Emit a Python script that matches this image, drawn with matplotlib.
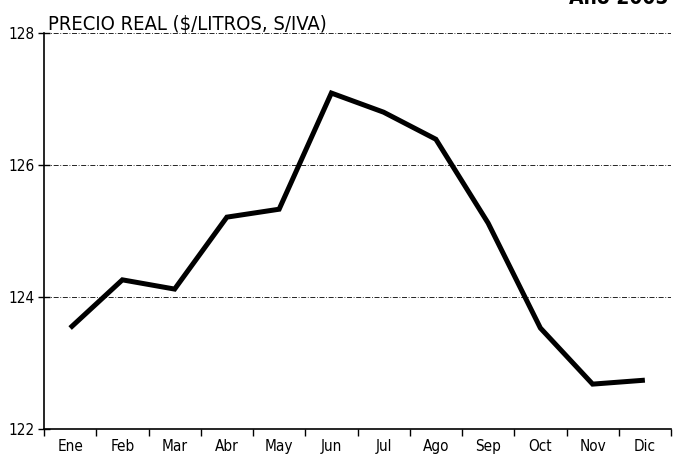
import matplotlib
matplotlib.use("Agg")
import matplotlib.pyplot as plt
from matplotlib.ticker import FixedLocator, NullFormatter

plt.rcParams['font.family'] = ['DejaVu Sans']
plt.rcParams['font.stretch'] = 'condensed'

months = ["Ene", "Feb", "Mar", "Abr", "May", "Jun", "Jul", "Ago", "Sep", "Oct", "Nov", "Dic"]
precio = [123.53, 124.26, 124.12, 125.21, 125.33, 127.09, 126.80, 126.39, 125.12, 123.53, 122.68, 122.74]
yticks = [122, 124, 126, 128]
title = "PRECIO REAL ($/LITROS, S/IVA)"
year_title = "Año 2005"

fig = plt.figure(figsize=(6.81, 4.58), dpi=100)
ax = fig.add_axes([44/681, 29/458, 627/681, 396/458])

x = list(range(len(months)))
ax.plot(x, precio, color="black", lw=3.6, solid_joinstyle="miter", solid_capstyle="butt", zorder=3)

ax.set_xlim(-0.5, len(months) - 0.5)
ax.set_ylim(122, 128)

ax.set_yticks(yticks)
ax.set_yticklabels([str(v) for v in yticks], fontsize=11)
ax.tick_params(axis="y", direction="inout", length=8, width=1, pad=3)

ax.xaxis.set_major_locator(FixedLocator([i - 0.5 for i in range(len(months) + 1)]))
ax.xaxis.set_major_formatter(NullFormatter())
ax.xaxis.set_minor_locator(FixedLocator(x))
ax.set_xticklabels(months, minor=True, fontsize=11)
ax.tick_params(axis="x", which="major", direction="out", length=5, width=1)
ax.tick_params(axis="x", which="minor", length=0, pad=7)

for v in yticks[1:]:
    ax.axhline(v, color="black", lw=0.6, ls=(0, (6, 2, 1, 2)), zorder=1)

for s in ["top", "right"]:
    ax.spines[s].set_visible(False)
ax.spines["left"].set_linewidth(1.2)
ax.spines["bottom"].set_linewidth(1.2)

fig.text(48/681, 1 - 30/458, title, fontsize=14.5, va="baseline", ha="left")
fig.text(668/681, 1 - 4/458, year_title, fontsize=15, fontweight="bold", va="baseline", ha="right")

fig.savefig("out.png", dpi=100)
